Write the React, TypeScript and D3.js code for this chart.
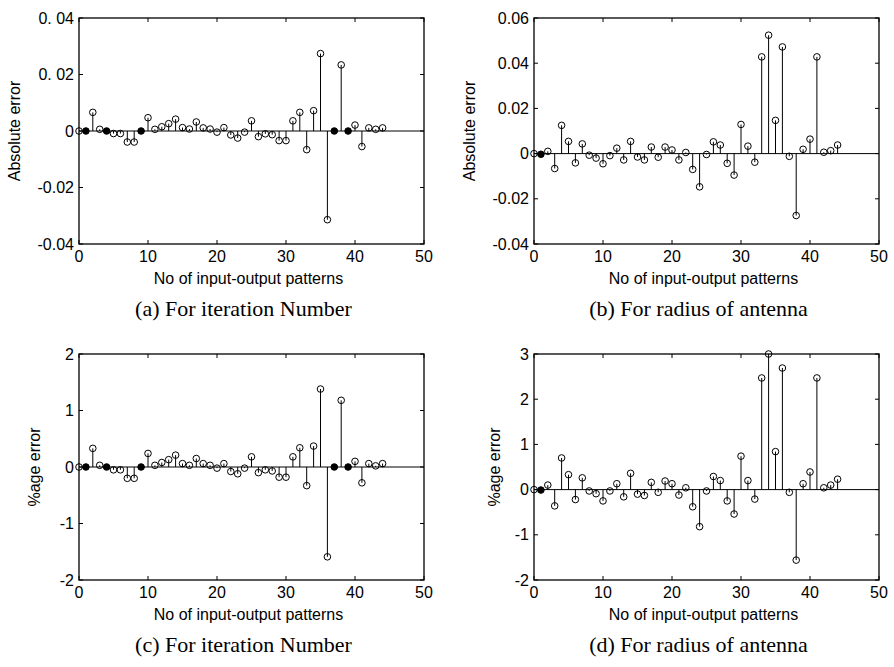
import React from "react";
import * as d3 from "d3";

const patterns: number[] = Array.from({ length: 45 }, (_, i) => i);

const absErrIter: number[] = [
  0, 0, 0.0066, 0.0006, 0, -0.0009, -0.0009, -0.0039, -0.0039, 0,
  0.0047, 0.0006, 0.0015, 0.0026, 0.0042, 0.0012, 0.0007, 0.0032, 0.0011, 0.0007,
  -0.0004, 0.0012, -0.0014, -0.0025, -0.0004, 0.0036, -0.002, -0.001, -0.0013, -0.0034,
  -0.0034, 0.0036, 0.0066, -0.0066, 0.0072, 0.0274, -0.0314, 0, 0.0234, 0,
  0.0021, -0.0055, 0.0011, 0.0006, 0.0011,
];

const absErrRadius: number[] = [
  0, -0.0003, 0.001, -0.0066, 0.0125, 0.0054, -0.0041, 0.0043, -0.0007, -0.002,
  -0.0045, -0.0009, 0.0024, -0.0028, 0.0054, -0.0015, -0.0028, 0.0029, -0.0016, 0.0029,
  0.0016, -0.0028, 0.0005, -0.007, -0.0147, -0.0004, 0.0052, 0.0038, -0.0043, -0.0095,
  0.0129, 0.0033, -0.0038, 0.0428, 0.0524, 0.0147, 0.0472, -0.0012, -0.0274, 0.0019,
  0.0064, 0.0428, 0.0006, 0.0013, 0.0038,
];

const pctErrIter: number[] = [
  0, 0, 0.33, 0.03, 0, -0.05, -0.05, -0.2, -0.2, 0,
  0.24, 0.03, 0.08, 0.13, 0.21, 0.06, 0.03, 0.15, 0.06, 0.03,
  -0.02, 0.06, -0.08, -0.12, -0.02, 0.18, -0.1, -0.05, -0.07, -0.18,
  -0.18, 0.18, 0.34, -0.33, 0.37, 1.38, -1.59, 0, 1.18, 0,
  0.1, -0.28, 0.06, 0.02, 0.06,
];

const pctErrRadius: number[] = [
  0, -0.01, 0.1, -0.36, 0.7, 0.33, -0.22, 0.26, -0.03, -0.09,
  -0.25, -0.03, 0.13, -0.16, 0.36, -0.1, -0.13, 0.16, -0.06, 0.19,
  0.13, -0.12, 0.04, -0.38, -0.82, -0.03, 0.29, 0.2, -0.25, -0.54,
  0.74, 0.2, -0.21, 2.47, 3.0, 0.84, 2.69, -0.06, -1.56, 0.13,
  0.39, 2.47, 0.04, 0.1, 0.23,
];

const filledIter: number[] = [1, 4, 9, 37, 39];
const filledRadius: number[] = [1];

const xTicks: number[] = [0, 10, 20, 30, 40, 50];
const yTicksAbsIter: string[] = ["0. 04", "0. 02", "0", "-0.02", "-0.04"];
const yTickValsAbsIter: number[] = [0.04, 0.02, 0, -0.02, -0.04];
const yTicksAbsRad: string[] = ["0.06", "0.04", "0.02", "0", "-0.02", "-0.04"];
const yTickValsAbsRad: number[] = [0.06, 0.04, 0.02, 0, -0.02, -0.04];
const yTicksPctIter: string[] = ["2", "1", "0", "-1", "-2"];
const yTickValsPctIter: number[] = [2, 1, 0, -1, -2];
const yTicksPctRad: string[] = ["3", "2", "1", "0", "-1", "-2"];
const yTickValsPctRad: number[] = [3, 2, 1, 0, -1, -2];

const titles: string[] = [
  "(a) For iteration Number",
  "(b) For radius of antenna",
  "(c) For iteration Number",
  "(d) For radius of antenna",
];
const yLabels: string[] = ["Absolute error", "Absolute error", "%age error", "%age error"];
const xLabel = "No of input-output patterns";

const SANS = "'Liberation Sans', Arial, sans-serif";
const SERIF = "'Liberation Serif', 'Times New Roman', serif";

interface PanelProps {
  left: number;
  top: number;
  values: number[];
  filled: number[];
  yDomain: [number, number];
  yTickVals: number[];
  yTickLabels: string[];
  title: string;
  yLabel: string;
  yLabelX: number;
}

const W = 345;
const H = 226;

function Panel(p: PanelProps) {
  const x = d3.scaleLinear().domain([0, 50]).range([p.left, p.left + W]);
  const y = d3.scaleLinear().domain(p.yDomain).range([p.top + H, p.top]);
  const y0 = y(0);
  const tickLen = 4;
  return (
    <g>
      <line x1={x(0)} x2={x(50)} y1={y0} y2={y0} stroke="#000" strokeWidth={1} />
      {patterns.map((pt, i) => (
        <line key={"s" + i} x1={x(pt)} x2={x(pt)} y1={y0} y2={y(p.values[i])} stroke="#000" strokeWidth={1} />
      ))}
      {patterns.map((pt, i) => {
        const isFilled = p.filled.includes(pt);
        return (
          <circle
            key={"c" + i}
            cx={x(pt)}
            cy={y(p.values[i])}
            r={3.3}
            fill={isFilled ? "#000" : "none"}
            stroke="#000"
            strokeWidth={1}
          />
        );
      })}
      <rect x={p.left} y={p.top} width={W} height={H} fill="none" stroke="#000" strokeWidth={1.3} />
      {xTicks.map((t) => (
        <g key={"xt" + t}>
          <line x1={x(t)} x2={x(t)} y1={p.top + H} y2={p.top + H - tickLen} stroke="#000" />
          <line x1={x(t)} x2={x(t)} y1={p.top} y2={p.top + tickLen} stroke="#000" />
          <text x={x(t)} y={p.top + H + 18} textAnchor="middle" fontFamily={SANS} fontSize={16}>
            {t}
          </text>
        </g>
      ))}
      {p.yTickVals.map((v, i) => (
        <g key={"yt" + i}>
          <line x1={p.left} x2={p.left + tickLen} y1={y(v)} y2={y(v)} stroke="#000" />
          <line x1={p.left + W} x2={p.left + W - tickLen} y1={y(v)} y2={y(v)} stroke="#000" />
          <text x={p.left - 5} y={y(v)} dy="0.35em" textAnchor="end" fontFamily={SANS} fontSize={16}>
            {p.yTickLabels[i]}
          </text>
        </g>
      ))}
      <text
        x={p.left + W / 2 - 3}
        y={p.top + H + 40}
        textAnchor="middle"
        fontFamily={SANS}
        fontSize={16}
      >
        {xLabel}
      </text>
      <text
        x={p.left + W / 2 - 8}
        y={p.top + H + 72}
        textAnchor="middle"
        fontFamily={SERIF}
        fontSize={22}
      >
        {p.title}
      </text>
      <text
        transform={`translate(${p.yLabelX},${p.top + H / 2}) rotate(-90)`}
        textAnchor="middle"
        fontFamily={SANS}
        fontSize={16}
      >
        {p.yLabel}
      </text>
    </g>
  );
}

export default function App() {
  return (
    <svg width={894} height={667} style={{ position: "absolute", left: 0, top: 0, background: "#fff" }}>
      <rect x={0} y={0} width={894} height={667} fill="#fff" />
      <Panel
        left={79}
        top={18}
        values={absErrIter}
        filled={filledIter}
        yDomain={[-0.04, 0.04]}
        yTickVals={yTickValsAbsIter}
        yTickLabels={yTicksAbsIter}
        title={titles[0]}
        yLabel={yLabels[0]}
        yLabelX={20}
      />
      <Panel
        left={534}
        top={18}
        values={absErrRadius}
        filled={filledRadius}
        yDomain={[-0.04, 0.06]}
        yTickVals={yTickValsAbsRad}
        yTickLabels={yTicksAbsRad}
        title={titles[1]}
        yLabel={yLabels[1]}
        yLabelX={475}
      />
      <Panel
        left={79}
        top={354}
        values={pctErrIter}
        filled={filledIter}
        yDomain={[-2, 2]}
        yTickVals={yTickValsPctIter}
        yTickLabels={yTicksPctIter}
        title={titles[2]}
        yLabel={yLabels[2]}
        yLabelX={40}
      />
      <Panel
        left={534}
        top={354}
        values={pctErrRadius}
        filled={filledRadius}
        yDomain={[-2, 3]}
        yTickVals={yTickValsPctRad}
        yTickLabels={yTicksPctRad}
        title={titles[3]}
        yLabel={yLabels[3]}
        yLabelX={500}
      />
    </svg>
  );
}
